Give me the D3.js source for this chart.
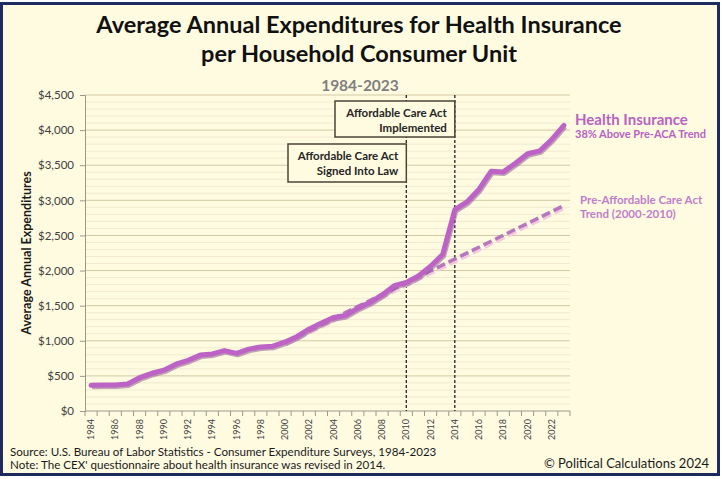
<!DOCTYPE html>
<html><head><meta charset="utf-8">
<script src="https://cdn.jsdelivr.net/npm/d3@7"></script>
<style>
html,body{margin:0;padding:0;background:#fff;}
svg{display:block;font-family:Lato,"Open Sans",sans-serif;}
</style></head>
<body>
<svg id="chart" width="722" height="479"></svg>
<script>
const years = d3.range(1984, 2024);
const healthIns = [365, 371, 371, 385, 474, 537, 581, 666, 722, 796,
  813, 860, 821, 881, 913, 923, 983, 1061, 1168, 1252,
  1332, 1361, 1465, 1545, 1653, 1785, 1831, 1922, 2061, 2229,
  2868, 2977, 3159, 3414, 3405, 3529, 3664, 3704, 3867, 4067];
const trendYears = [2000, 2023];
const trendValues = [980, 2926];
const eventYears = [2010, 2014];
const yTicks = [0, 500, 1000, 1500, 2000, 2500, 3000, 3500, 4000, 4500];
const minorTicks = d3.range(0, 4600, 100);

const svg = d3.select("#chart");
const L = 85, R = 570, T = 95, B = 411;

// background and frame
svg.append("rect").attr("x", 0).attr("y", 0).attr("width", 722).attr("height", 479).attr("fill", "#fff");
svg.append("rect").attr("x", 1.5).attr("y", 3.5).attr("width", 717).attr("height", 471)
  .attr("fill", "#fefbe1").attr("stroke", "#1e2b5e").attr("stroke-width", 3);

const x = d3.scaleBand().domain(years).range([L, R]).padding(0);
const xc = yr => x(yr) + x.bandwidth() / 2;
const y = d3.scaleLinear().domain([0, 4500]).range([B, T]);

// minor gridlines
svg.append("g").selectAll("line").data(minorTicks.filter(v => v % 500 !== 0)).join("line")
  .attr("x1", L).attr("x2", R).attr("y1", d => y(d)).attr("y2", d => y(d))
  .attr("stroke", "#f1ead0").attr("stroke-width", 1);
// major gridlines
svg.append("g").selectAll("line").data(yTicks.filter(v => v > 0)).join("line")
  .attr("x1", L).attr("x2", R).attr("y1", d => y(d)).attr("y2", d => y(d))
  .attr("stroke", "#d2c9a4").attr("stroke-width", 1);

// y axis
const yAxis = d3.axisLeft(y).tickValues(yTicks).tickSize(5).tickPadding(6)
  .tickFormat(d => "$" + d3.format(",")(d));
const gy = svg.append("g").attr("transform", `translate(${L},0)`).call(yAxis);
gy.select(".domain").attr("stroke", "#9c9888");
gy.selectAll(".tick line").attr("stroke", "#9c9888");
gy.selectAll("text").attr("fill", "#404040").style("font-size", "11.5px").style("font-family", "Lato, sans-serif");

// x axis
const gx = svg.append("g").attr("transform", `translate(0,${B})`);
gx.append("line").attr("x1", L).attr("x2", R).attr("stroke", "#9c9888");
gx.selectAll("line.tk").data(years.concat([2024])).join("line").attr("class", "tk")
  .attr("x1", d => d === 2024 ? R : x(d)).attr("x2", d => d === 2024 ? R : x(d))
  .attr("y1", 0).attr("y2", 5).attr("stroke", "#9c9888");
gx.selectAll("text").data(years.filter(d => (d - 1984) % 2 === 0)).join("text")
  .attr("transform", d => `translate(${xc(d) + 3},8) rotate(-90)`)
  .attr("text-anchor", "end").attr("fill", "#404040")
  .style("font-size", "9px").text(d => d);

// event lines
svg.append("g").selectAll("line").data(eventYears).join("line")
  .attr("x1", d => xc(d)).attr("x2", d => xc(d)).attr("y1", T).attr("y2", B)
  .attr("stroke", "#222").attr("stroke-width", 1.3).attr("stroke-dasharray", "3,2");

// annotation boxes
function box(x0, y0, x1, y1, lines) {
  svg.append("rect").attr("x", x0).attr("y", y0).attr("width", x1 - x0).attr("height", y1 - y0)
    .attr("fill", "#fefbe1").attr("stroke", "#4a4638").attr("stroke-width", 1.5);
  lines.forEach((t, i) => svg.append("text").attr("x", x1 - 8).attr("y", y0 + 16 + i * 15)
    .attr("text-anchor", "end").attr("fill", "#262626").style("font-weight", "bold")
    .style("font-size", "11.5px").text(t));
}
box(335, 101, xc(2014), 137, ["Affordable Care Act", "Implemented"]);
box(288, 144, xc(2010), 182, ["Affordable Care Act", "Signed Into Law"]);

// trend line
const trendData = trendYears.map((yr, i) => [yr, trendValues[i]]);
const lineT = d3.line().x(d => xc(d[0])).y(d => y(d[1]));
svg.append("path").datum(trendData).attr("d", lineT).attr("fill", "none")
  .attr("stroke", "#f3c9de").attr("stroke-width", 4).attr("stroke-dasharray", "9,4")
  .attr("transform", "translate(1,2)");
svg.append("path").datum(trendData).attr("d", lineT).attr("fill", "none")
  .attr("stroke", "#b677bd").attr("stroke-width", 3.5).attr("stroke-dasharray", "9,4");

// main line
const mainData = years.map((yr, i) => [yr, healthIns[i]]);
const lineM = d3.line().x(d => xc(d[0])).y(d => y(d[1]));
svg.append("path").datum(mainData).attr("d", lineM).attr("fill", "none")
  .attr("stroke", "#8d5a92").attr("stroke-width", 5).attr("stroke-opacity", 0.55)
  .attr("stroke-linejoin", "round").attr("transform", "translate(1,1.5)");
svg.append("path").datum(mainData).attr("d", lineM).attr("fill", "none")
  .attr("stroke", "#bd63c6").attr("stroke-width", 5).attr("stroke-linejoin", "round").attr("stroke-linecap", "round");

// right labels
svg.append("text").attr("x", 575).attr("y", 125).attr("fill", "#b862c2")
  .style("font-weight", "bold").style("font-size", "15px").text("Health Insurance");
svg.append("text").attr("x", 575).attr("y", 138).attr("fill", "#b862c2")
  .style("font-weight", "bold").style("font-size", "11px").text("38% Above Pre-ACA Trend");
svg.append("text").attr("x", 580).attr("y", 204).attr("fill", "#c07ec9")
  .style("font-weight", "bold").style("font-size", "11.5px").text("Pre-Affordable Care Act");
svg.append("text").attr("x", 580).attr("y", 218).attr("fill", "#c07ec9")
  .style("font-weight", "bold").style("font-size", "11.5px").text("Trend (2000-2010)");

// titles
svg.append("text").attr("x", 359).attr("y", 33).attr("text-anchor", "middle").attr("fill", "#111")
  .style("font-weight", "bold").style("font-size", "23.5px").text("Average Annual Expenditures for Health Insurance");
svg.append("text").attr("x", 359).attr("y", 62).attr("text-anchor", "middle").attr("fill", "#111")
  .style("font-weight", "bold").style("font-size", "23.5px").text("per Household Consumer Unit");
svg.append("text").attr("x", 360).attr("y", 91).attr("text-anchor", "middle").attr("fill", "#7f7f7f")
  .style("font-weight", "bold").style("font-size", "15.5px").text("1984-2023");

// y axis title
svg.append("text").attr("transform", `translate(31,${(T + B) / 2}) rotate(-90)`)
  .attr("text-anchor", "middle").attr("fill", "#1a1a1a").style("font-weight", "bold")
  .style("font-size", "12.5px").text("Average Annual Expenditures");

// footer
svg.append("text").attr("x", 10).attr("y", 456).attr("fill", "#1a1a1a").style("font-size", "11.6px")
  .text("Source: U.S. Bureau of Labor Statistics - Consumer Expenditure Surveys, 1984-2023");
svg.append("text").attr("x", 10).attr("y", 469).attr("fill", "#1a1a1a").style("font-size", "11.6px")
  .text("Note: The CEX' questionnaire about health insurance was revised in 2014.");
svg.append("text").attr("x", 709).attr("y", 468).attr("text-anchor", "end").attr("fill", "#1a1a1a")
  .style("font-size", "13px").text("© Political Calculations 2024");
</script>
</body></html>
